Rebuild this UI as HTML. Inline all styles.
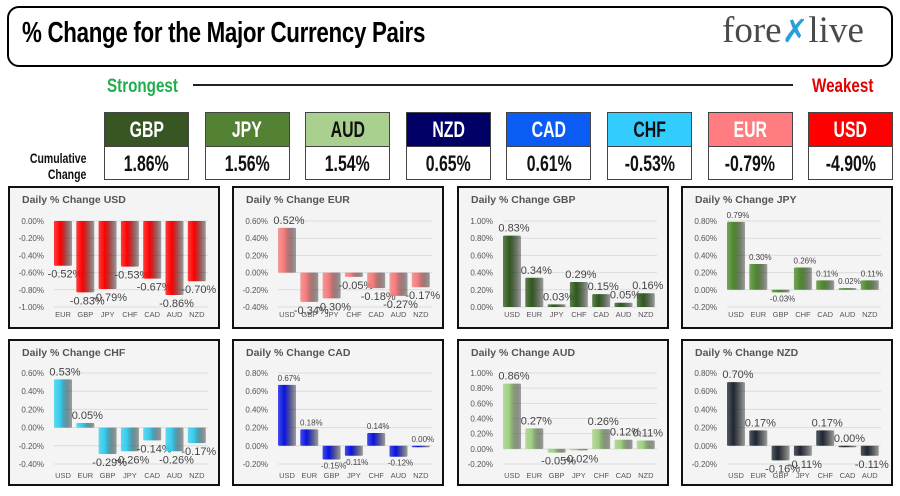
<!DOCTYPE html>
<html><head><meta charset="utf-8">
<style>
body{margin:0;width:900px;height:496px;background:#fff;overflow:hidden;font-family:"Liberation Sans",sans-serif;position:relative}
.cond{font-family:"Liberation Sans Narrow","Liberation Sans",sans-serif;font-weight:bold}
#title-box{position:absolute;left:7px;top:6px;width:882px;height:57px;border:2px solid #000;border-radius:12px}
#title{position:absolute;left:22px;top:17px;font-size:29px;letter-spacing:-0.4px;transform:scaleX(0.77);transform-origin:left;white-space:nowrap}
#logo{position:absolute;left:722px;top:9px;font-family:"Liberation Serif",serif;font-size:37px;color:#4a4a4a;white-space:nowrap}
#logo span{color:#2aa0d8;font-family:"Liberation Sans",sans-serif;font-size:32px}
.lbl{position:absolute;font-size:19px;transform:scaleX(0.8);transform-origin:left}
#rule{position:absolute;left:193px;top:84px;width:600px;height:2px;background:#222}
.box{position:absolute;top:112px;width:83px;height:66px;border:1px solid #444}
.box .h{height:33px;line-height:33px;text-align:center;font-size:22px;border-bottom:1px solid #444}
.box .v{height:32px;line-height:34px;text-align:center;font-size:22px;background:#fff;color:#111}
.box span{display:inline-block;transform:scaleX(0.72)}
#cum{position:absolute;left:0px;top:150px;width:86px;text-align:right;font-size:14px;line-height:16px;color:#111}
#cum span{display:inline-block;transform:scaleX(0.75);transform-origin:right}
svg{position:absolute;left:0;top:0}
</style></head>
<body>
<div id="title-box"></div>
<div id="title" class="cond">% Change for the Major Currency Pairs</div>
<div id="logo">fore<span>✗</span>live</div>
<div class="lbl cond" style="left:107px;top:76px;color:#1eae4e">Strongest</div>
<div id="rule"></div>
<div class="lbl cond" style="left:812px;top:76px;color:#e00000">Weakest</div>
<div id="cum" class="cond"><span>Cumulative</span><br><span>Change</span></div>
<div id="boxes"></div>
<svg id="charts" width="900" height="496"></svg>
<script>
const sumCurrencies=["GBP","JPY","AUD","NZD","CAD","CHF","EUR","USD"];
const sumValues=[1.86,1.56,1.54,0.65,0.61,-0.53,-0.79,-4.90];
const sumColors=["#375623","#548235","#a9d08e","#000066","#0a5cf5","#33ccff","#ff7c80","#ff0000"];
const sumText=["#fff","#fff","#111","#fff","#fff","#111","#fff","#fff"];

const panelNames=["USD","EUR","GBP","JPY","CHF","CAD","AUD","NZD"];
const catsUSD=["EUR","GBP","JPY","CHF","CAD","AUD","NZD"];
const valsUSD=[-0.52,-0.83,-0.79,-0.53,-0.67,-0.86,-0.70];
const catsEUR=["USD","GBP","JPY","CHF","CAD","AUD","NZD"];
const valsEUR=[0.52,-0.34,-0.30,-0.05,-0.18,-0.27,-0.17];
const catsGBP=["USD","EUR","JPY","CHF","CAD","AUD","NZD"];
const valsGBP=[0.83,0.34,0.03,0.29,0.15,0.05,0.16];
const catsJPY=["USD","EUR","GBP","CHF","CAD","AUD","NZD"];
const valsJPY=[0.79,0.30,-0.03,0.26,0.11,0.02,0.11];
const catsCHF=["USD","EUR","GBP","JPY","CAD","AUD","NZD"];
const valsCHF=[0.53,0.05,-0.29,-0.26,-0.14,-0.26,-0.17];
const catsCAD=["USD","EUR","GBP","JPY","CHF","AUD","NZD"];
const valsCAD=[0.67,0.18,-0.15,-0.11,0.14,-0.12,0.00];
const catsAUD=["USD","EUR","GBP","JPY","CHF","CAD","NZD"];
const valsAUD=[0.86,0.27,-0.05,-0.02,0.26,0.12,0.11];
const catsNZD=["USD","EUR","GBP","JPY","CHF","CAD","AUD"];
const valsNZD=[0.70,0.17,-0.16,-0.11,0.17,0.00,-0.11];
const axisMin=[-1.0,-0.4,0,-0.2,-0.4,-0.2,-0.2,-0.2];
const axisMax=[0,0.6,1.0,0.8,0.6,0.8,1.0,0.8];

const allCats=[catsUSD,catsEUR,catsGBP,catsJPY,catsCHF,catsCAD,catsAUD,catsNZD];
const allVals=[valsUSD,valsEUR,valsGBP,valsJPY,valsCHF,valsCAD,valsAUD,valsNZD];
const barColors=["#ff0000","#f47a7a","#2f5a1c","#4e8a2c","#33ccee","#0a14e0","#9fd080","#1f2733"];
const labelSizes=[11,11,11,8,11,8,11,11];

const boxes=document.getElementById('boxes');
sumCurrencies.forEach((c,i)=>{
  const b=document.createElement('div');
  b.className='box';
  b.style.left=(104+i*100.6)+'px';
  
  
  const h=document.createElement('div');h.className='h cond';
  const hs=document.createElement('span');hs.textContent=c;h.appendChild(hs);
  h.style.background=sumColors[i];h.style.color=sumText[i];
  
  
  const v=document.createElement('div');v.className='v cond';
  const vs=document.createElement('span');vs.textContent=sumValues[i].toFixed(2)+'%';v.appendChild(vs);
  
  
  b.appendChild(h);b.appendChild(v);boxes.appendChild(b);
});

const NS='http://www.w3.org/2000/svg';
const svg=document.getElementById('charts');
function mk(tag,attrs,parent){const e=document.createElementNS(NS,tag);for(const k in attrs)e.setAttribute(k,attrs[k]);(parent||svg).appendChild(e);return e;}
const defs=mk('defs',{});
const panelX=[8,232,457,681];
const rows=[{top:186,h:143,pt:35,pb:121},{top:339,h:147,pt:34,pb:125}];

panelNames.forEach((name,p)=>{
  const r=rows[Math.floor(p/4)],px=panelX[p%4],py=r.top,pw=212;
  const g=mk('g',{});
  
  
  const gr=mk('linearGradient',{id:'g'+p,x1:0,x2:1,y1:0,y2:0},defs);
  mk('stop',{offset:'0','stop-color':barColors[p],'stop-opacity':'0.75'},gr);
  mk('stop',{offset:'0.35','stop-color':barColors[p]},gr);
  mk('stop',{offset:'1','stop-color':'#000','stop-opacity':'0.35'},gr);
  const bg=mk('rect',{x:px+1,y:py+1,width:pw-2,height:r.h-2,fill:'#f4f4f4',stroke:'#111','stroke-width':2},g);
  
  
  const t=mk('text',{x:px+14,y:py+17,'font-size':10.5,'font-weight':'bold',fill:'#555'},g);
  t.textContent='Daily % Change '+name;
  
  
  const y0=py+r.pt,y1=py+r.pb,mn=axisMin[p],mx=axisMax[p];
  const yS=v=>y1-(v-mn)/(mx-mn)*(y1-y0);
  const xS=i=>px+55+i*22.3;
  const n=Math.round((mx-mn)/0.2);
  for(let k=0;k<=n;k++){
    const v=mn+k*0.2,yy=yS(v);
    const gl=mk('line',{x1:px+46,x2:px+200,y1:yy,y2:yy,stroke:'#dcdcdc','stroke-width':1},g);
    
    
    const tl=mk('text',{x:px+36,y:yy+3,'font-size':8,'text-anchor':'end',fill:'#555'},g);
    tl.textContent=(Math.abs(v)<1e-9?0:v).toFixed(2)+'%';
    
    
  }
  const cats=allCats[p],vals=allVals[p],z=yS(0);
  cats.forEach((c,i)=>{
    const v=vals[i],cx=xS(i),yv=yS(v);
    const top=Math.min(z,yv),h=Math.max(Math.abs(z-yv),1.5);
    const b=mk('rect',{x:cx-9,y:top,width:18,height:h,fill:'url(#g'+p+')',rx:1},g);
    
    
    const ly=v>=0?yv-4:yv+labelSizes[p]+1;
    const lt=mk('text',{x:cx+2,y:ly,'font-size':labelSizes[p],'text-anchor':'middle',fill:'#444'},g);
    lt.textContent=v.toFixed(2)+'%';
    
    
    const cl=mk('text',{x:cx,y:py+r.pb+(p<4?10:14),'font-size':7.5,'text-anchor':'middle',fill:'#555'},g);
    cl.textContent=c;
    
    
  });
});
</script>
</body></html>
